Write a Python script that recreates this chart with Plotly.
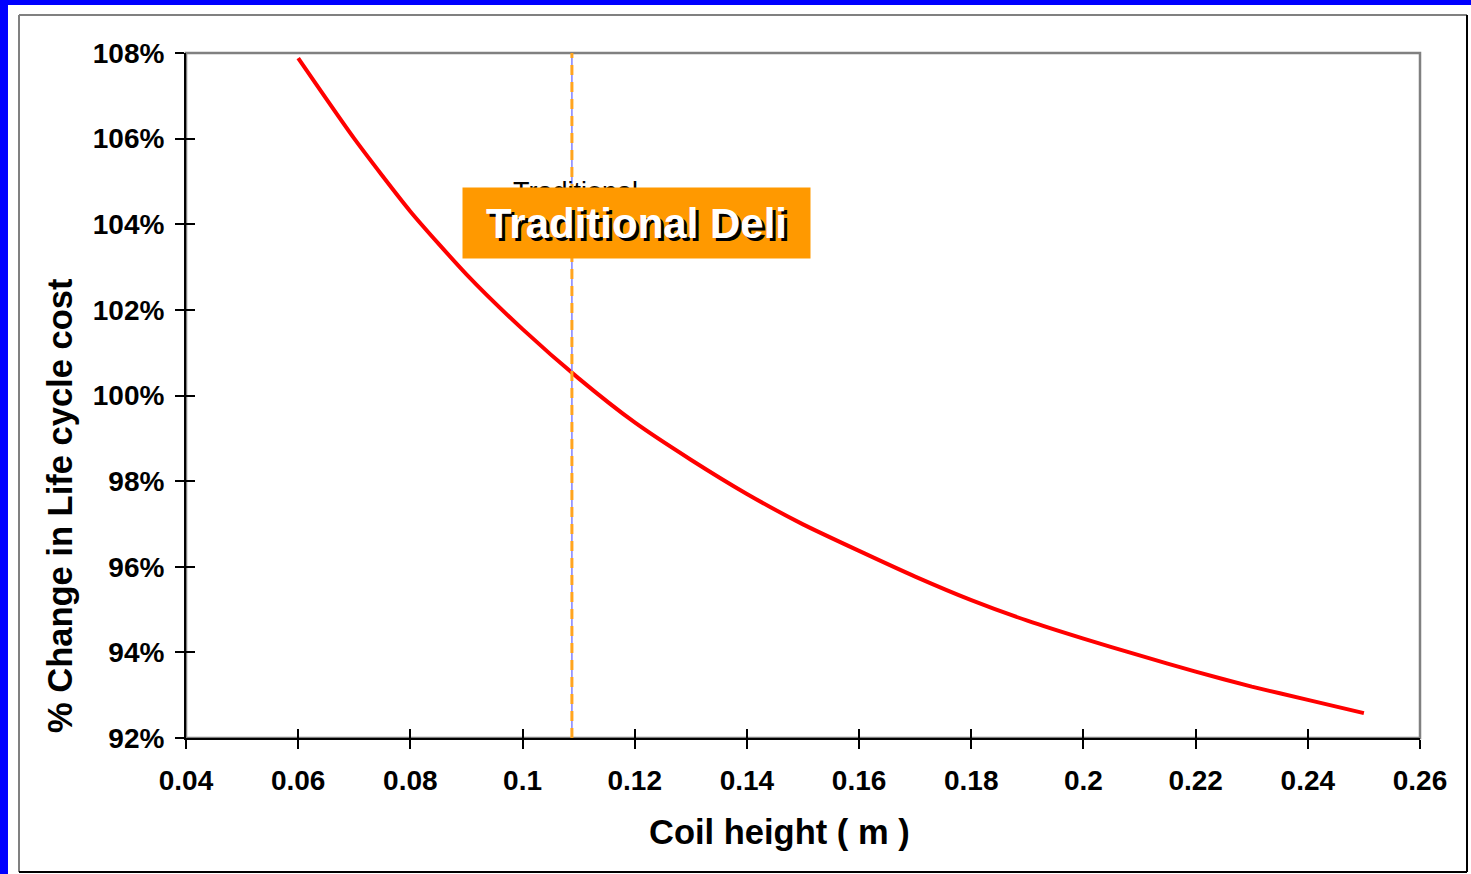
import plotly.graph_objects as go

# ---- data ----
coil_height = [0.06, 0.07, 0.08, 0.09, 0.10, 0.11, 0.12, 0.13, 0.14, 0.15,
               0.16, 0.17, 0.18, 0.19, 0.20, 0.21, 0.22, 0.23, 0.24, 0.25]
lcc_change = [1.0788, 1.0600, 1.0430, 1.0283, 1.0155, 1.0040, 0.9937, 0.9850, 0.9770, 0.9699,
              0.9637, 0.9577, 0.9522, 0.9474, 0.9432, 0.9393, 0.9355, 0.9320, 0.9289, 0.9258]
traditional_x = [0.1088, 0.1088]
traditional_y = [0.92, 1.0807]
x_range = [0.04, 0.26]
y_range = [0.92, 1.08]

FONT = "Arial, Liberation Sans, sans-serif"

fig = go.Figure()
fig.add_trace(go.Scatter(x=coil_height, y=lcc_change, mode="lines",
                         line=dict(color="#FF0000", width=4, shape="spline", smoothing=0.6),
                         xaxis="x", yaxis="y", showlegend=False, hoverinfo="skip"))
fig.add_trace(go.Scatter(x=traditional_x, y=traditional_y, mode="lines",
                         line=dict(color="#8080FF", width=1.5), xaxis="x2", yaxis="y2",
                         showlegend=False, hoverinfo="skip", cliponaxis=False))
fig.add_trace(go.Scatter(x=traditional_x, y=traditional_y, mode="lines",
                         line=dict(color="#FFA41F", width=3, dash="10px,7px"),
                         xaxis="x2", yaxis="y2", showlegend=False, hoverinfo="skip",
                         cliponaxis=False))

tickfont = dict(family=FONT, size=28, color="black", weight="bold")
common_x = dict(range=x_range, dtick=0.02, tick0=0.04, showgrid=False, zeroline=False,
                ticklen=9, tickwidth=1.5, tickcolor="black")
common_y = dict(range=y_range, dtick=0.02, tick0=0.92, showgrid=False, zeroline=False,
                ticklen=9, tickwidth=1.5, tickcolor="black", tickformat=".0%")

fig.update_layout(
    width=1471, height=874,
    margin=dict(l=186, r=51, t=53, b=136),
    paper_bgcolor="#0000FF",
    plot_bgcolor="white",
    xaxis=dict(**common_x, ticks="outside", showline=True, linecolor="black", linewidth=2,
               tickfont=tickfont, ticklabelstandoff=7),
    yaxis=dict(**common_y, ticks="outside", showline=True, linecolor="black", linewidth=2,
               tickfont=tickfont, ticklabelstandoff=5),
    xaxis2=dict(**common_x, ticks="inside", overlaying="x", anchor="y2", side="bottom",
                showticklabels=False, showline=False),
    yaxis2=dict(**common_y, ticks="inside", overlaying="y", anchor="x2", side="left",
                showticklabels=False, showline=False),
    shapes=[
        # white slide panel
        dict(type="rect", xref="paper", yref="paper", x0=-0.14425, x1=1.06, y0=-0.21, y1=1.07007,
             fillcolor="white", line=dict(width=0), layer="below"),
        # panel frame
        dict(type="line", xref="paper", yref="paper", x0=-0.13533, x1=1.03809, y0=1.05547, y1=1.05547,
             line=dict(color="#808080", width=2), layer="below"),
        dict(type="line", xref="paper", yref="paper", x0=-0.13533, x1=-0.13533, y0=-0.19562, y1=1.05547,
             line=dict(color="#808080", width=2), layer="below"),
        dict(type="line", xref="paper", yref="paper", x0=1.03809, x1=1.03809, y0=-0.19562, y1=1.05547,
             line=dict(color="black", width=2), layer="below"),
        dict(type="line", xref="paper", yref="paper", x0=-0.13533, x1=1.03809, y0=-0.19562, y1=-0.19562,
             line=dict(color="black", width=2), layer="below"),
        # plot frame (top/right grey)
        dict(type="rect", xref="paper", yref="paper", x0=0, x1=1, y0=0, y1=1,
             line=dict(color="#808080", width=2.5), fillcolor="rgba(0,0,0,0)", layer="below"),
    ],
    annotations=[
        dict(text="Traditional", x=0.1094, y=1.0475, xref="x", yref="y", showarrow=False,
             xanchor="center", yanchor="middle",
             font=dict(family=FONT, size=27, color="black")),
        dict(text="Traditional Deli", x=0.1203, y=1.0403, xref="x", yref="y", showarrow=False,
             xanchor="center", yanchor="middle",
             bgcolor="#FF9900", width=347, height=70, borderpad=0, align="center", valign="middle",
             font=dict(family=FONT, size=42, color="white", weight="bold",
                       shadow="3px 3px 0px black")),
        dict(text="Coil height ( m )", x=0.4806, y=-0.1372, xref="paper", yref="paper",
             xanchor="center", yanchor="middle",
             showarrow=False, font=dict(family=FONT, size=34.5, color="black", weight="bold")),
        dict(text="% Change in Life cycle cost", x=-0.1021, y=0.3387, xref="paper", yref="paper",
             xanchor="center", yanchor="middle",
             showarrow=False, textangle=-90,
             font=dict(family=FONT, size=34.5, color="black", weight="bold")),
    ],
)

fig.write_html("out.html")
